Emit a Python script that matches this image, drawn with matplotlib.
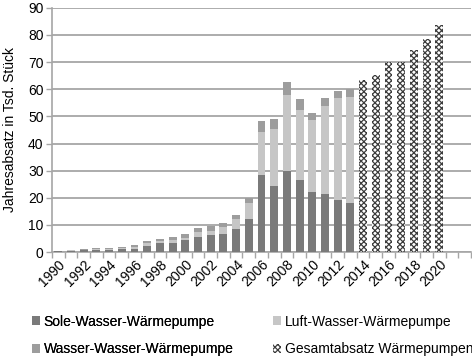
import matplotlib
matplotlib.use("Agg")
import matplotlib.pyplot as plt
import numpy as np
from matplotlib.patches import Patch

plt.rcParams['font.family'] = ['Liberation Sans', 'DejaVu Sans']
plt.rcParams['hatch.linewidth'] = 0.9

years = list(range(1990, 2023))
hist_years = list(range(1990, 2014))
sole = [0.2, 0.5, 0.7, 0.8, 0.9, 1.0, 1.3, 2.3, 3.3, 3.5, 4.3, 5.7, 6.2, 6.8, 8.6, 12.3,
        28.3, 24.5, 29.9, 26.4, 22.1, 21.5, 19.3, 18.2]
luft = [0.05, 0.1, 0.2, 0.3, 0.3, 0.4, 0.6, 0.9, 0.7, 0.9, 1.0, 1.7, 1.7, 2.4, 3.6, 5.7,
        16.0, 20.8, 27.9, 26.0, 26.6, 32.5, 37.4, 39.0]
total_hist = [0.3, 0.8, 1.1, 1.4, 1.6, 1.9, 2.7, 4.2, 4.9, 5.4, 6.5, 8.9, 9.5, 10.8, 13.7, 19.9,
              48.2, 49.1, 62.5, 56.3, 51.2, 56.8, 59.5, 60.0]
wasser = [t - s - l for t, s, l in zip(total_hist, sole, luft)]
proj_years = list(range(2014, 2021))
gesamt = [63.5, 65.1, 70.1, 70.1, 74.3, 78.5, 83.8]

c_sole = '#7a7a7a'
c_luft = '#c6c6c6'
c_wasser = '#9d9d9d'
c_grid = '#a6a6a6'
c_hatch = '#3c3c3c'

fig = plt.figure(figsize=(4.72, 3.57), dpi=100)
ax = fig.add_axes([0.110, 0.294, 0.888, 0.684])

idx = {y: i for i, y in enumerate(years)}
xh = np.array([idx[y] for y in hist_years])
xp = np.array([idx[y] for y in proj_years])
w = 0.62
ax.bar(xh, sole, w, color=c_sole, zorder=3)
ax.bar(xh, luft, w, bottom=sole, color=c_luft, zorder=3)
ax.bar(xh, wasser, w, bottom=np.array(sole) + np.array(luft), color=c_wasser, zorder=3)
ax.bar(xp, gesamt, w, color='white', edgecolor=c_hatch, hatch='xxxxxx', linewidth=0, zorder=3)

ax.set_xlim(-0.5, len(years) - 0.5)
ax.set_ylim(0, 90)
ax.set_yticks(range(0, 91, 10))
ax.yaxis.grid(True, color=c_grid, linewidth=1.3, zorder=0)
ax.set_axisbelow(True)

lab_pos = [idx[y] for y in years if y % 2 == 0 and y <= 2020]
lab_txt = [str(y) for y in years if y % 2 == 0 and y <= 2020]
ax.set_xticks(lab_pos)
ax.set_xticklabels(lab_txt, rotation=45, ha='right', rotation_mode='anchor', fontsize=10)
ax.tick_params(axis='x', length=0, pad=4)
ax.set_xticks(np.arange(-0.5, len(years) - 0.5 + 0.01, 1), minor=True)
ax.tick_params(axis='x', which='minor', length=4, color=c_grid, width=1)
ax.tick_params(axis='y', length=4, color=c_grid, width=1, labelsize=10, pad=2)

for s in ['top', 'right']:
    ax.spines[s].set_visible(False)
for s in ['left', 'bottom']:
    ax.spines[s].set_color(c_grid)
    ax.spines[s].set_linewidth(1.2)

ax.set_ylabel('Jahresabsatz in Tsd. Stück', fontsize=10, labelpad=8)

h_left = [Patch(facecolor=c_sole, label='Sole-Wasser-Wärmepumpe'),
          Patch(facecolor=c_wasser, label='Wasser-Wasser-Wärmepumpe')]
h_right = [Patch(facecolor=c_luft, label='Luft-Wasser-Wärmepumpe'),
           Patch(facecolor='white', edgecolor=c_hatch, hatch='xxxxxx', linewidth=0,
                 label='Gesamtabsatz Wärmepumpen')]
common = dict(loc='center left', frameon=False, fontsize=10, handlelength=0.55,
              handleheight=0.55, handletextpad=0.3, labelspacing=1.0, borderpad=0,
              borderaxespad=0)
leg1 = fig.legend(handles=h_left, bbox_to_anchor=(32 / 472, 1 - 335.5 / 357), **common)
fig.add_artist(leg1)
fig.legend(handles=h_right, bbox_to_anchor=(273 / 472, 1 - 335.5 / 357), **common)

fig.savefig('out.png', dpi=100)
